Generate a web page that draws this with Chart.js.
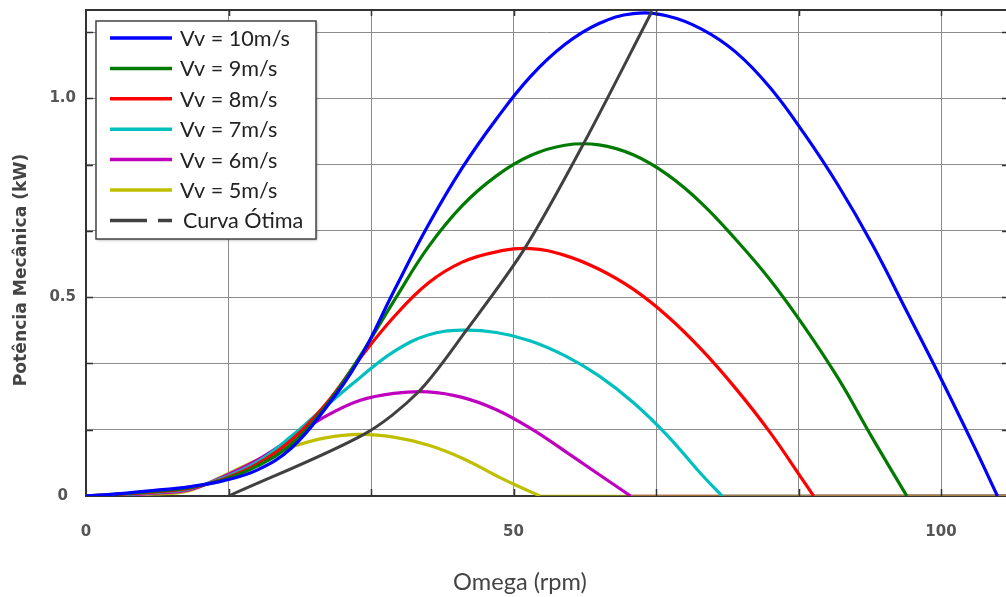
<!DOCTYPE html>
<html>
<head>
<meta charset="utf-8">
<script src="https://cdn.jsdelivr.net/npm/chart.js@4.4.1/dist/chart.umd.min.js"></script>
<style>
  html, body { margin: 0; padding: 0; background: #fff; }
  #wrap { width: 1006px; height: 597px; position: relative; }
</style>
</head>
<body>
<div id="wrap"><canvas id="powerChart"></canvas></div>
<script>
// rotor speed (rpm) and mechanical power (kW)
const omega10 = [0, 4, 8, 12, 16, 20, 24, 28, 32, 36, 40, 44, 48, 52, 56, 60, 64, 68, 72, 76, 80, 84, 88, 92, 96, 100, 104, 106.6];
const power10 = [0, 0.006, 0.014, 0.023, 0.038, 0.065, 0.12, 0.22, 0.345, 0.515, 0.68, 0.825, 0.948, 1.055, 1.135, 1.188, 1.213, 1.207, 1.174, 1.116, 1.027, 0.911, 0.78, 0.631, 0.464, 0.295, 0.119, 0];

const omega9 = [0, 4, 8, 12, 16, 20, 24, 28, 32, 36, 40, 44, 48, 52, 56, 60, 64, 68, 72, 76, 80, 84, 88, 92, 96];
const power9 = [0, 0.005, 0.012, 0.021, 0.04, 0.075, 0.13, 0.225, 0.35, 0.49, 0.625, 0.73, 0.805, 0.856, 0.882, 0.883, 0.858, 0.808, 0.736, 0.645, 0.544, 0.426, 0.295, 0.145, 0];

const omega8 = [0, 4, 8, 12, 16, 20, 24, 28, 32, 36, 40, 44, 48, 52, 56, 60, 64, 68, 72, 76, 80, 84, 85.1];
const power8 = [0, 0.004, 0.01, 0.019, 0.042, 0.08, 0.14, 0.23, 0.345, 0.45, 0.535, 0.588, 0.614, 0.622, 0.605, 0.57, 0.52, 0.452, 0.368, 0.27, 0.16, 0.035, 0];

const omega7 = [0, 4, 8, 12, 16, 20, 24, 28, 32, 36, 40, 44, 48, 52, 56, 60, 64, 68, 72, 74.4];
const power7 = [0, 0.003, 0.009, 0.018, 0.045, 0.085, 0.15, 0.225, 0.297, 0.363, 0.405, 0.417, 0.411, 0.39, 0.353, 0.302, 0.235, 0.152, 0.054, 0];

const omega6 = [0, 4, 8, 12, 16, 20, 24, 28, 32, 36, 40, 44, 48, 52, 56, 60, 63.7];
const power6 = [0, 0.002, 0.007, 0.015, 0.048, 0.09, 0.145, 0.2, 0.24, 0.258, 0.262, 0.248, 0.217, 0.17, 0.113, 0.054, 0];

const omega5 = [0, 4, 8, 12, 16, 20, 24, 28, 32, 36, 40, 44, 48, 50, 53.1];
const power5 = [0, 0.002, 0.005, 0.013, 0.05, 0.09, 0.123, 0.146, 0.155, 0.148, 0.128, 0.095, 0.051, 0.03, 0];

// optimal curve through the peaks
const omegaOpt = [16.7, 32.5, 38.9, 44.5, 51.3, 58.2, 66.2];
const powerOpt = [0, 0.155, 0.262, 0.417, 0.622, 0.886, 1.219];

const seriesLabels = ['Vv = 10m/s', 'Vv = 9m/s', 'Vv = 8m/s', 'Vv = 7m/s', 'Vv = 6m/s', 'Vv = 5m/s'];
const optLabel = 'Curva Ótima';

const xGridValues = [0, 50 / 3, 100 / 3, 50, 200 / 3, 250 / 3, 100];
const xTickLabels = ['0', '', '', '50', '', '', '100'];
const yGridValues = [0, 1 / 6, 2 / 6, 0.5, 4 / 6, 5 / 6, 1.0, 7 / 6];
const yTickLabels = ['0', '', '', '0.5', '', '', '1.0', ''];

const X_MAX = 107.6;
const Y_MAX = 1.222;

const colors = ['#0000ff', '#007a00', '#ff0000', '#00bfbf', '#bf00bf', '#bfbf00'];
const optColor = '#404040';

const omegas = [omega10, omega9, omega8, omega7, omega6, omega5];
const powers = [power10, power9, power8, power7, power6, power5];

function toPoints(xs, ys) {
    return xs.map((x, i) => ({ x: x, y: ys[i] }));
}

const datasets = [];
omegas.forEach((xs, i) => {
    datasets.push({
        label: seriesLabels[i],
        data: toPoints(xs, powers[i]),
        borderColor: colors[i],
        borderWidth: 3.2,
        pointRadius: 0,
        tension: 0.4,
        order: 0
    });
});
// zero tails after each curve reaches 0 (yellow ends up on top)
omegas.forEach((xs, i) => {
    datasets.push({
        label: seriesLabels[i] + ' (0)',
        data: [{ x: xs[xs.length - 1], y: 0 }, { x: X_MAX, y: 0 }],
        borderColor: colors[i] + '88',
        borderWidth: 3,
        pointRadius: 0,
        order: 10 - i
    });
});
datasets.push({
    label: optLabel,
    data: toPoints(omegaOpt, powerOpt),
    borderColor: optColor,
    borderWidth: 3,
    pointRadius: 0,
    tension: 0.3,
    order: -1
});

function fitSize(ctx, text, family, weight, target) {
    ctx.font = weight + ' 20px ' + family;
    return 20 * target / ctx.measureText(text).width;
}

const decorPlugin = {
    id: 'decor',
    afterDatasetsDraw(chart) {
        const ctx = chart.ctx;
        const area = chart.chartArea;
        const xs = chart.scales.x, ys = chart.scales.y;
        ctx.save();

        // top border
        ctx.strokeStyle = '#333';
        ctx.lineWidth = 2;
        ctx.beginPath();
        ctx.moveTo(area.left, area.top);
        ctx.lineTo(area.right, area.top);
        ctx.stroke();

        // inward tick marks
        ctx.lineWidth = 1.5;
        ctx.beginPath();
        xGridValues.slice(1).forEach(v => {
            const px = Math.round(xs.getPixelForValue(v)) + 0.5;
            ctx.moveTo(px, area.top); ctx.lineTo(px, area.top + 6);
            ctx.moveTo(px, area.bottom); ctx.lineTo(px, area.bottom - 7);
        });
        yGridValues.slice(1).forEach(v => {
            const py = Math.round(ys.getPixelForValue(v)) + 0.5;
            ctx.moveTo(area.left, py); ctx.lineTo(area.left + 7, py);
            ctx.moveTo(area.right, py); ctx.lineTo(area.right - 4, py);
        });
        ctx.stroke();

        // legend box
        const bx = 96, by = 21, bw = 220, bh = 218;
        ctx.shadowColor = 'rgba(0,0,0,0.35)';
        ctx.shadowBlur = 3;
        ctx.shadowOffsetX = 1;
        ctx.shadowOffsetY = 1;
        ctx.fillStyle = '#fff';
        ctx.fillRect(bx, by, bw, bh);
        ctx.shadowColor = 'transparent';
        ctx.strokeStyle = '#444';
        ctx.lineWidth = 1.5;
        ctx.strokeRect(bx, by, bw, bh);

        const legendSize = fitSize(ctx, seriesLabels[0], 'Lato', 'normal', 110);
        ctx.font = 'normal ' + legendSize.toFixed(1) + 'px Lato';
        ctx.textBaseline = 'middle';
        ctx.textAlign = 'left';
        ctx.lineWidth = 3.5;
        seriesLabels.forEach((label, i) => {
            const ry = 38 + 30.4 * i;
            ctx.strokeStyle = colors[i];
            ctx.beginPath();
            ctx.moveTo(110, ry); ctx.lineTo(172, ry);
            ctx.stroke();
            ctx.fillStyle = '#222';
            ctx.fillText(label, 180, ry + 1);
        });
        const oy = 38 + 30.4 * 6;
        ctx.strokeStyle = optColor;
        ctx.beginPath();
        ctx.moveTo(110, oy); ctx.lineTo(147, oy);
        ctx.moveTo(158, oy); ctx.lineTo(172, oy);
        ctx.stroke();
        ctx.fillStyle = '#222';
        ctx.fillText(optLabel, 183, oy + 1);

        // axis titles
        ctx.fillStyle = '#444';
        ctx.textAlign = 'center';
        ctx.textBaseline = 'middle';
        const xt = 'Omega (rpm)';
        ctx.font = 'normal ' + fitSize(ctx, xt, 'Lato', 'normal', 134).toFixed(1) + 'px Lato';
        ctx.fillText(xt, 520, 582);

        const yt = 'Potência Mecânica (kW)';
        ctx.font = 'bold ' + fitSize(ctx, yt, 'DejaVu Sans', 'bold', 233).toFixed(1) + 'px "DejaVu Sans"';
        ctx.translate(22, 270);
        ctx.rotate(-Math.PI / 2);
        ctx.fillText(yt, 0, 0);

        ctx.restore();
    }
};

function initChart() {
    const ctx = document.getElementById('powerChart').getContext('2d');
    new Chart(ctx, {
        type: 'line',
        data: { datasets: datasets },
        options: {
            animation: false,
            responsive: true,
            maintainAspectRatio: false,
            devicePixelRatio: 1,
            layout: { padding: { top: 10, right: 0, left: 0, bottom: 0 } },
            plugins: { legend: { display: false }, tooltip: { enabled: false } },
            scales: {
                x: {
                    type: 'linear',
                    min: 0,
                    max: X_MAX,
                    afterBuildTicks: axis => { axis.ticks = xGridValues.map(v => ({ value: v })); },
                    afterFit: axis => {
                        axis.height = 101;
                        axis.paddingLeft = 0;
                        axis.paddingRight = 0;
                    },
                    grid: { color: '#8c8c8c', lineWidth: 1, drawTicks: false },
                    border: { color: '#333', width: 2 },
                    ticks: {
                        autoSkip: false,
                        maxRotation: 0,
                        padding: 27,
                        color: '#555',
                        font: { family: 'DejaVu Sans', size: 15, weight: 'bold' },
                        callback: (value, index) => xTickLabels[index]
                    }
                },
                y: {
                    min: 0,
                    max: Y_MAX,
                    afterBuildTicks: axis => { axis.ticks = yGridValues.map(v => ({ value: v })); },
                    afterFit: axis => {
                        axis.width = 86;
                        axis.paddingTop = 0;
                        axis.paddingBottom = 0;
                    },
                    grid: { color: '#8c8c8c', lineWidth: 1, drawTicks: false },
                    border: { color: '#333', width: 2 },
                    ticks: {
                        autoSkip: false,
                        crossAlign: 'center',
                        padding: 10,
                        color: '#555',
                        font: { family: 'DejaVu Sans', size: 15, weight: 'bold' },
                        callback: (value, index) => yTickLabels[index]
                    }
                }
            }
        },
        plugins: [decorPlugin]
    });
}

document.addEventListener('DOMContentLoaded', initChart);
</script>
</body>
</html>
